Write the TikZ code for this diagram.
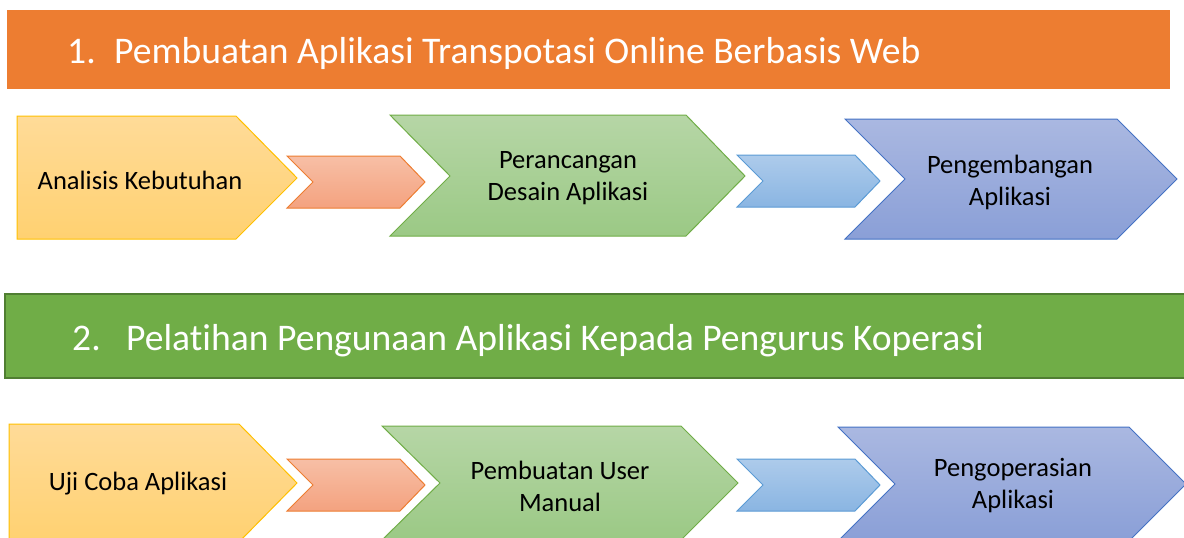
\documentclass[tikz,border=0pt]{standalone}
\usepackage{fontspec}
\setmainfont{Carlito}[Ligatures=NoCommon]
\usepackage{tikz}
\usepackage{xcolor}
\usetikzlibrary{positioning}

\definecolor{bannerorange}{HTML}{ED7D31}
\definecolor{bannergreen}{HTML}{70AD47}
\definecolor{bannergreenline}{HTML}{507E32}
\definecolor{ylwtop}{HTML}{FFDB98}
\definecolor{ylwbot}{HTML}{FFD171}
\definecolor{ylwline}{HTML}{FFC000}
\definecolor{orgtop}{HTML}{F7BFA6}
\definecolor{orgbot}{HTML}{F4A27F}
\definecolor{grntop}{HTML}{B6D6A6}
\definecolor{grnbot}{HTML}{9BC985}
\definecolor{blutop}{HTML}{ADCBEB}
\definecolor{blubot}{HTML}{8AB5E2}
\definecolor{blueline}{HTML}{5B9BD5}
\definecolor{prptop}{HTML}{AAB8E1}
\definecolor{prpbot}{HTML}{8A9FD7}
\definecolor{prpline}{HTML}{4472C4}

\tikzset{banner/.style={fill=bannerorange}}
\tikzset{bannertwo/.style={fill=bannergreen, draw=bannergreenline, line width=2pt}}
\tikzset{bannertxt/.style={inner sep=0pt, anchor=base west, text=white, font=\fontsize{37.6}{45}\selectfont}}
\tikzset{steptxt/.style={inner sep=0pt, align=center, font=\fontsize{26.5}{32}\selectfont}}
\tikzset{ylwshape/.style={top color=ylwtop, bottom color=ylwbot, draw=ylwline, line width=1pt}}
\tikzset{orgshape/.style={top color=orgtop, bottom color=orgbot, draw=bannerorange, line width=1pt}}
\tikzset{grnshape/.style={top color=grntop, bottom color=grnbot, draw=bannergreen, line width=1pt}}
\tikzset{blushape/.style={top color=blutop, bottom color=blubot, draw=blueline, line width=1pt}}
\tikzset{prpshape/.style={top color=prptop, bottom color=prpbot, draw=prpline, line width=1pt}}

\begin{document}
\begin{tikzpicture}[x=1pt, y=-1pt]
    \useasboundingbox (0, 0) rectangle (1184, 538);

    % first banner and its steps
    \path[banner] (7, 10) rectangle (1170, 89);
    \node[bannertxt] (numa) at (67, 63) {1.};
    \node[bannertxt] (titlea) at (114, 63) {Pembuatan Aplikasi Transpotasi Online Berbasis Web};

    \path[ylwshape] (17, 116) -- (236, 116) -- (297, 178) -- (236, 239) -- (17, 239) -- cycle;
    \path[orgshape] (287, 156) -- (400, 156) -- (425, 182) -- (400, 208) -- (287, 208) -- (313, 182) -- cycle;
    \path[grnshape] (390, 115) -- (686, 115) -- (745, 176) -- (686, 236) -- (390, 236) -- (450, 176) -- cycle;
    \path[blushape] (737, 155) -- (855, 155) -- (880, 181) -- (855, 207) -- (737, 207) -- (763, 181) -- cycle;
    \path[prpshape] (845, 119) -- (1117, 119) -- (1177, 179) -- (1117, 239) -- (845, 239) -- (905, 179) -- cycle;

    \node[steptxt] (analisis) at (140, 180) {Analisis Kebutuhan};
    \node[steptxt] (rancang) at (568, 178) {Perancangan\\Desain Aplikasi};
    \node[steptxt] (kembang) at (1010, 182) {Pengembangan\\Aplikasi};

    % second banner and its steps
    \path[bannertwo] (5, 294) rectangle (1190, 378);
    \node[bannertxt] (numb) at (72, 350) {2.};
    \node[bannertxt] (titleb) at (126, 350) {Pelatihan Pengunaan Aplikasi Kepada Pengurus Koperasi};

    \path[ylwshape] (9, 424) -- (239, 424) -- (297, 483) -- (239, 542) -- (9, 542) -- cycle;
    \path[orgshape] (287, 459) -- (400, 459) -- (425, 485) -- (400, 511) -- (287, 511) -- (313, 485) -- cycle;
    \path[grnshape] (382, 426) -- (681, 426) -- (738, 483) -- (681, 540) -- (382, 540) -- (440, 483) -- cycle;
    \path[blushape] (737, 459) -- (855, 459) -- (880, 485) -- (855, 511) -- (737, 511) -- (763, 485) -- cycle;
    \path[prpshape] (838, 427) -- (1129, 427) -- (1186, 484) -- (1129, 541) -- (838, 541) -- (895, 484) -- cycle;

    \node[steptxt] (ujicoba) at (138, 484) {Uji Coba Aplikasi};
    \node[steptxt] (manual) at (560, 486) {Pembuatan User\\Manual};
    \node[steptxt] (operasi) at (1013, 486) {Pengoperasian\\Aplikasi};
\end{tikzpicture}
\end{document}
